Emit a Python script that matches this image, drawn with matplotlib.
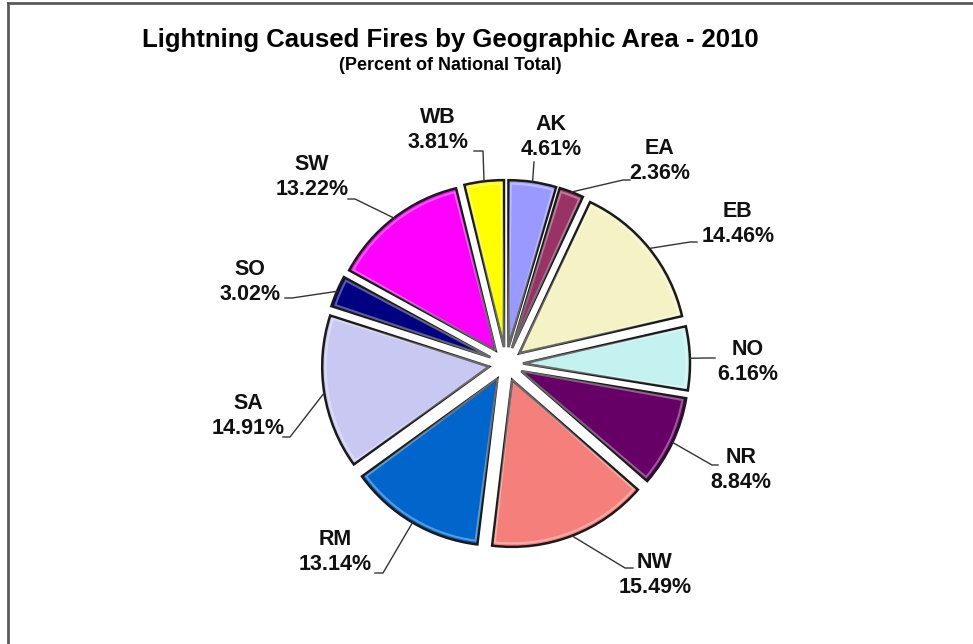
import numpy as np
import matplotlib
matplotlib.use("Agg")
import matplotlib.pyplot as plt
from matplotlib.lines import Line2D
from matplotlib.patches import Wedge

# data
areas = ["AK", "EA", "EB", "NO", "NR", "NW", "RM", "SA", "SO", "SW", "WB"]
percents = [4.61, 2.36, 14.46, 6.16, 8.84, 15.49, 13.14, 14.91, 3.02, 13.22, 3.81]
colors = ["#9999FF", "#993366", "#F5F3C5", "#C4F2F0", "#660066", "#F47F7B",
          "#0066CC", "#C8C8F2", "#000080", "#FF00FF", "#FFFF00"]

# layout (pixel coords, y down): label centre, elbow of leader, end of leader
label_pos = [(551, 137), (660, 161), (738, 224), (748, 362), (741, 470), (655, 575),
             (335, 552), (248, 416), (250, 282), (312, 177), (438, 130)]
elbow_pos = [(534, 162), (623, 180), (690, 242), (708, 358), (712, 465), (625, 568),
             (383, 573), (290, 437), (292, 298), (355, 199), (483, 151)]
end_pos = [(534, 162), (630, 180), (697, 242), (715, 358), (718, 465), (633, 568),
           (375, 573), (283, 437), (285, 298), (348, 199), (474, 151)]

W, H = 973, 644
CX, CY, R = 506, 364, 167
EXPLODE = 17  # pie() takes explode in data units


def px(p):
    return p[0], H - p[1]


fig = plt.figure(figsize=(W / 100, H / 100), dpi=100)
ax = fig.add_axes([0, 0, 1, 1])

wedges, _ = ax.pie(percents, colors=colors, startangle=90, counterclock=False,
                   explode=[EXPLODE] * len(percents), radius=R, center=(CX, H - CY),
                   wedgeprops=dict(edgecolor="#1a1a1a", linewidth=1.8))
ax.set_xlim(0, W)
ax.set_ylim(0, H)
ax.set_aspect("equal")
ax.axis("off")

for i, w in enumerate(wedges):
    # soft bevel just inside the outline
    ax.add_patch(Wedge(w.center, R - 3.5, w.theta1 + 0.8, w.theta2 - 0.8,
                       facecolor="none", edgecolor="white", alpha=0.35, lw=1.5, zorder=3))
    mid = np.deg2rad((w.theta1 + w.theta2) / 2)
    cx, cy = w.center
    hx = cx + R * np.cos(mid)
    hy = cy + R * np.sin(mid)
    ex, ey = px(elbow_pos[i])
    sx, sy = px(end_pos[i])
    ax.plot([hx, ex, sx], [hy, ey, sy], color="#333333", lw=1.0, zorder=1)
    lx, ly = px(label_pos[i])
    ax.text(lx, ly, "%s\n%.2f%%" % (areas[i], percents[i]), ha="center", va="center",
            fontsize=15.5, fontweight="bold", family="Liberation Sans", color="#111111",
            linespacing=1.25)

fig.text(450 / W, 1 - 40 / H, "Lightning Caused Fires by Geographic Area - 2010",
         ha="center", va="center", fontsize=18.5, fontweight="bold", family="Liberation Sans")
fig.text(450 / W, 1 - 66 / H, "(Percent of National Total)",
         ha="center", va="center", fontsize=13, fontweight="bold", family="Liberation Sans")

# frame
fig.add_artist(Line2D([7.5 / W, 7.5 / W], [0, 1 - 2.5 / H], transform=fig.transFigure,
                      color="#5a5a5a", lw=2))
fig.add_artist(Line2D([7.5 / W, 1], [1 - 2.5 / H, 1 - 2.5 / H], transform=fig.transFigure,
                      color="#5a5a5a", lw=2))

fig.savefig("out.png", dpi=100, facecolor="white")
